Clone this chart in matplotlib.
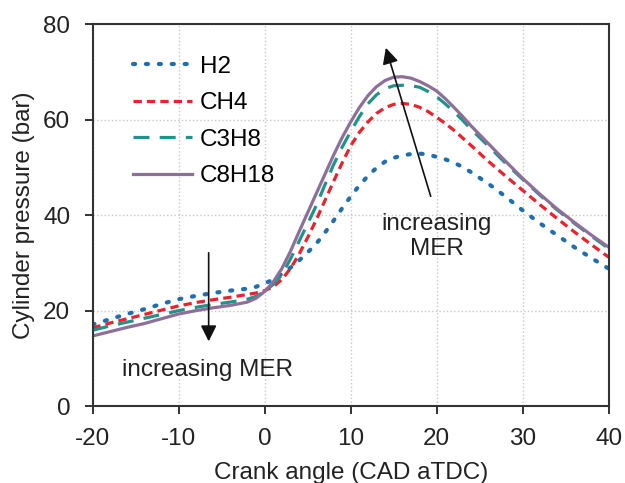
import matplotlib.pyplot as plt

plt.rcParams['font.family'] = ['Liberation Sans', 'DejaVu Sans']
plt.rcParams['axes.unicode_minus'] = False

# Crank angle (CAD aTDC)
crank = [-20, -18, -16, -14, -12, -10, -8, -6, -4, -2, -1, 0, 1, 2, 3, 4,
         5, 6, 7, 8, 9, 10, 11, 12, 13, 14, 15, 16, 17, 18, 19, 20, 21, 22,
         23, 24, 26, 28, 30, 32, 34, 36, 38, 40]

# Cylinder pressure (bar)
p_h2 = [17.1, 18.2, 19.3, 20.3, 21.4, 22.4, 23.1, 23.7, 24.2, 24.6, 25.0,
        25.7, 26.5, 27.7, 29.0, 30.5, 32.2, 34.0, 36.3, 38.8, 41.4, 43.9,
        46.2, 48.2, 49.9, 51.2, 52.0, 52.5, 52.8, 52.9, 52.7, 52.2, 51.7,
        51.0, 50.1, 49.0, 46.6, 43.9, 41.0, 38.3, 35.8, 33.3, 31.0, 28.8]
p_ch4 = [16.4, 17.4, 18.3, 19.2, 20.1, 21.0, 21.7, 22.3, 22.8, 23.4, 23.7,
         24.2, 25.0, 26.5, 28.8, 31.8, 35.3, 39.0, 43.0, 47.0, 50.9, 54.5,
         57.3, 59.5, 61.3, 62.5, 63.2, 63.4, 63.2, 62.6, 61.7, 60.5, 59.2,
         57.8, 56.2, 54.6, 51.3, 48.2, 45.2, 42.2, 39.3, 36.5, 33.8, 31.2]
p_c3h8 = [15.9, 16.8, 17.6, 18.4, 19.2, 20.0, 20.7, 21.3, 21.8, 22.4, 23.0,
          24.0, 25.5, 27.5, 30.8, 34.5, 38.2, 42.0, 46.3, 50.5, 54.2, 57.5,
          60.6, 63.3, 65.2, 66.5, 67.1, 67.2, 67.1, 66.8, 65.9, 64.8, 63.3,
          61.7, 59.9, 58.0, 54.5, 50.9, 47.5, 44.2, 41.1, 38.3, 35.6, 33.0]
p_c8h18 = [14.7, 15.6, 16.5, 17.3, 18.3, 19.3, 20.0, 20.6, 21.1, 21.8, 22.6,
           24.0, 26.0, 28.8, 32.4, 36.5, 40.5, 44.5, 48.5, 52.5, 56.2, 59.5,
           62.5, 65.0, 66.9, 68.2, 68.9, 69.0, 68.7, 68.0, 67.1, 66.0, 64.4,
           62.6, 60.7, 58.7, 55.0, 51.3, 47.7, 44.4, 41.3, 38.5, 35.8, 33.3]

fig = plt.figure(figsize=(6.25, 4.83), dpi=100)
ax = fig.add_axes([0.148, 0.159, 0.826, 0.791])

ax.plot(crank, p_h2, color='#1F6FB0', lw=3.0, linestyle=(0, (0.5, 2.6)),
        dash_capstyle='round', label='H2')
ax.plot(crank, p_ch4, color='#F0202A', lw=2.3, linestyle=(0, (2.6, 1.6)),
        label='CH4')
ax.plot(crank, p_c3h8, color='#1E9488', lw=2.3, linestyle=(0, (5.0, 3.2)),
        label='C3H8')
ax.plot(crank, p_c8h18, color='#8E6F9A', lw=2.3, label='C8H18')

ax.set_xlim(-20, 40)
ax.set_ylim(0, 80)
ax.set_xticks(range(-20, 41, 10))
ax.set_yticks(range(0, 81, 20))
ax.grid(True, color='#c8c8c8', linestyle=':', lw=1)
ax.tick_params(labelsize=17.5, direction='out', length=6, width=1.3,
               colors='#222222')
ax.tick_params(axis='x', pad=9.5)
ax.tick_params(axis='y', pad=10)
for s in ax.spines.values():
    s.set_color('#333333')
    s.set_linewidth(1.5)

ax.set_xlabel('Crank angle (CAD aTDC)', fontsize=17.5, color='#222222',
              labelpad=9)
ax.set_ylabel('Cylinder pressure (bar)', fontsize=17.5, color='#222222',
              labelpad=6)

# arrows and notes
ax.annotate('', xy=(-6.5, 13), xytext=(-6.5, 32.7),
            arrowprops=dict(arrowstyle='-|>', color='#111111', lw=1.2,
                            mutation_scale=24))
ax.text(-6.6, 7.5, 'increasing MER', fontsize=17.5, ha='center', va='center',
        color='#222222')
ax.annotate('', xy=(14, 75.6), xytext=(19.4, 43.4),
            arrowprops=dict(arrowstyle='-|>', color='#111111', lw=1.2,
                            mutation_scale=24))
ax.text(20, 35.5, 'increasing\nMER', fontsize=17.5, ha='center', va='center',
        color='#222222', linespacing=1.2)

ax.legend(loc='upper left', frameon=False, fontsize=17.5, handlelength=2.4,
          labelspacing=0.6, borderaxespad=0, handletextpad=0.35,
          bbox_to_anchor=(0.06, 0.943))

fig.savefig('out.png', dpi=100)
